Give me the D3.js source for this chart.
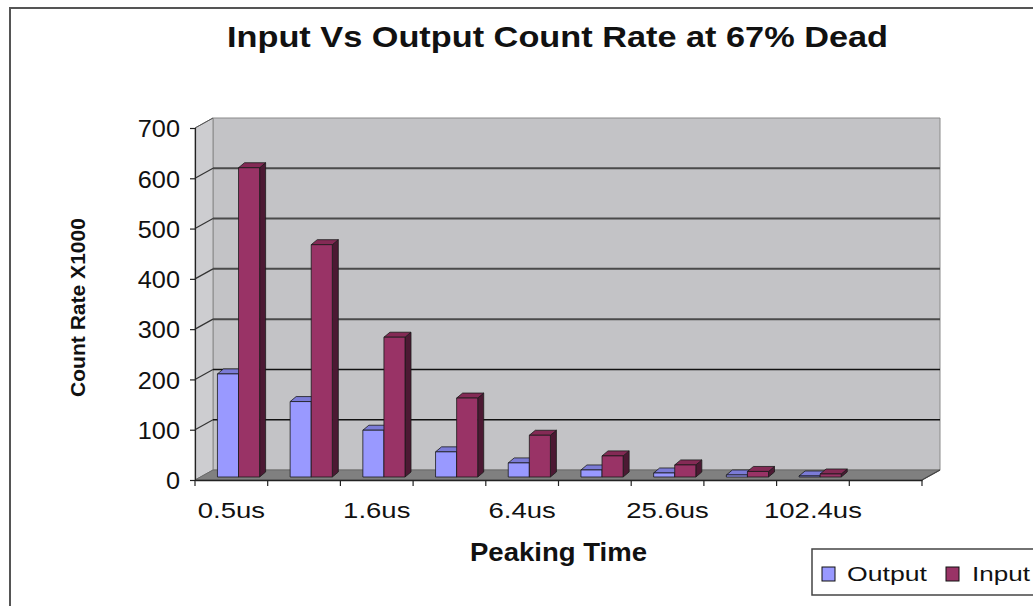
<!DOCTYPE html>
<html>
<head>
<meta charset="utf-8">
<script src="https://cdn.jsdelivr.net/npm/d3@7"></script>
<style>
  html, body { margin: 0; padding: 0; background: #fff; }
  svg { display: block; font-family: "Liberation Sans", Arial, sans-serif; }
</style>
</head>
<body>
<svg id="chart" width="1033" height="606"></svg>
<script>
// ---- data ----
const categories = ["0.5us", "0.8us", "1.6us", "3.2us", "6.4us", "12.8us", "25.6us", "51.2us", "102.4us", "204.8us"];
const shownLabels = ["0.5us", "1.6us", "6.4us", "25.6us", "102.4us"];
const seriesNames = ["Output", "Input"];
const outputValues = [205, 150, 93, 50, 28, 14, 8, 4, 2, null];
const inputValues = [615, 462, 278, 157, 83, 42, 24, 11, 6, null];
const yTicks = [0, 100, 200, 300, 400, 500, 600, 700];
const titleText = "Input Vs Output Count Rate at 67% Dead";
const xTitle = "Peaking Time";
const yTitle = "Count Rate X1000";

// ---- styles ----
const colors = {
  Output: { front: "#9999ff", top: "#7b7bd6", side: "#4d4d85" },
  Input: { front: "#993366", top: "#842a55", side: "#4c1933" }
};

const svg = d3.select("#chart");

// outer chart border
svg.append("rect").attr("x", 10).attr("y", 8).attr("width", 1040).attr("height", 620)
  .attr("fill", "#fff").attr("stroke", "#555").attr("stroke-width", 2);

// scales (front plane)
const x = d3.scaleBand().domain(categories).range([195, 922]).padding(0);
const y = d3.scaleLinear().domain([0, 700]).range([480, 128]);
const bw = x.bandwidth();
const xs = d3.scaleBand().domain(seriesNames).range([0.24 * bw, 0.82 * bw]).padding(0);

// depth offsets
const back = { dx: 18, dy: -10 };
const barPlane = { dx: 5, dy: -3 };
const barDepth = { dx: 6, dy: -5 };

const [x0, x1] = x.range();
const pts = a => a.map(p => p.join(",")).join(" ");

// back wall
svg.append("polygon")
  .attr("points", pts([[x0 + back.dx, y(700) + back.dy], [x1 + back.dx, y(700) + back.dy], [x1 + back.dx, y(0) + back.dy], [x0 + back.dx, y(0) + back.dy]]))
  .attr("fill", "#c3c3c6").attr("stroke", "#8a8a8a").attr("stroke-width", 1);
// side wall
svg.append("polygon")
  .attr("points", pts([[x0, y(0)], [x0, y(700)], [x0 + back.dx, y(700) + back.dy], [x0 + back.dx, y(0) + back.dy]]))
  .attr("fill", "#cdcdd0").attr("stroke", "#8a8a8a").attr("stroke-width", 1);
// floor
svg.append("polygon")
  .attr("points", pts([[x0, y(0)], [x1, y(0)], [x1 + back.dx, y(0) + back.dy], [x0 + back.dx, y(0) + back.dy]]))
  .attr("fill", "#808080").attr("stroke", "#6a6a6a").attr("stroke-width", 1);

// gridlines on back wall and side wall
const grid = svg.append("g");
yTicks.filter(v => v > 0 && v < 700).forEach(v => {
  const strong = v <= 200;
  grid.append("line")
    .attr("x1", x0 + back.dx).attr("x2", x1 + back.dx)
    .attr("y1", y(v) + back.dy).attr("y2", y(v) + back.dy)
    .attr("stroke", strong ? "#111" : "#4a4a4a").attr("stroke-width", strong ? 1.6 : 2);
  grid.append("line")
    .attr("x1", x0).attr("x2", x0 + back.dx)
    .attr("y1", y(v)).attr("y2", y(v) + back.dy)
    .attr("stroke", "#333").attr("stroke-width", 1.2);
});
grid.append("line")
  .attr("x1", x0).attr("x2", x0 + back.dx)
  .attr("y1", y(700)).attr("y2", y(700) + back.dy)
  .attr("stroke", "#555").attr("stroke-width", 1);

// bars
const barData = [];
categories.forEach((c, i) => {
  [["Output", outputValues[i]], ["Input", inputValues[i]]].forEach(([s, v]) => {
    if (v != null) barData.push({ c, s, v });
  });
});
const barsG = svg.append("g");
barData.forEach(d => {
  const bx = x(d.c) + xs(d.s) + barPlane.dx;
  const w = xs.bandwidth();
  const yb = y(0) + barPlane.dy;
  const yt = y(d.v) + barPlane.dy;
  const col = colors[d.s];
  const g = barsG.append("g").attr("stroke", "#1a1a1a").attr("stroke-width", 0.8).attr("stroke-linejoin", "round");
  g.append("polygon").attr("points", pts([[bx + w, yt], [bx + w + barDepth.dx, yt + barDepth.dy], [bx + w + barDepth.dx, yb + barDepth.dy], [bx + w, yb]]))
    .attr("fill", col.side);
  g.append("polygon").attr("points", pts([[bx, yt], [bx + w, yt], [bx + w + barDepth.dx, yt + barDepth.dy], [bx + barDepth.dx, yt + barDepth.dy]]))
    .attr("fill", col.top);
  g.append("rect").attr("x", bx).attr("y", yt).attr("width", w).attr("height", Math.max(0, yb - yt))
    .attr("fill", col.front);
});

// y axis
const yAxis = d3.axisLeft(y).tickValues(yTicks).tickSize(5).tickPadding(10).tickFormat(d3.format("d"));
const yg = svg.append("g").attr("transform", `translate(${x0},0)`).call(yAxis);
yg.select(".domain").attr("stroke", "#222").attr("stroke-width", 1.2);
yg.selectAll(".tick line").attr("stroke", "#222").attr("stroke-width", 1.2);
yg.selectAll(".tick text")
  .attr("font-size", 23).attr("fill", "#111").attr("font-family", "Liberation Sans, Arial, sans-serif")
  .attr("dy", "0.38em")
  .attr("textLength", function () { return this.getComputedTextLength ? null : null; });
yg.selectAll(".tick text").each(function () {
  const w = this.getComputedTextLength();
  d3.select(this).attr("textLength", w * 1.1).attr("lengthAdjust", "spacingAndGlyphs");
});

// x axis (front edge)
const xAxis = d3.axisBottom(x).tickSize(0).tickPadding(22)
  .tickFormat(d => shownLabels.includes(d) ? d : "");
const xg = svg.append("g").attr("transform", `translate(0,${y(0)})`).call(xAxis);
xg.select(".domain").attr("stroke", "#222").attr("stroke-width", 1.4);
xg.selectAll(".tick text")
  .attr("font-size", 22).attr("fill", "#111").attr("font-family", "Liberation Sans, Arial, sans-serif");
xg.selectAll(".tick text").each(function () {
  const w = this.getComputedTextLength();
  if (w > 0) d3.select(this).attr("textLength", w * 1.25).attr("lengthAdjust", "spacingAndGlyphs");
});
// boundary ticks on x axis
const bounds = categories.map(c => x(c)).concat([x1]);
xg.selectAll(".bnd").data(bounds).enter().append("line")
  .attr("x1", d => d).attr("x2", d => d).attr("y1", 0).attr("y2", 6)
  .attr("stroke", "#222").attr("stroke-width", 1.2);
// right floor edge
svg.append("line").attr("x1", x1).attr("y1", y(0)).attr("x2", x1 + back.dx).attr("y2", y(0) + back.dy)
  .attr("stroke", "#444").attr("stroke-width", 1.2);

// title
svg.append("text").attr("x", 227).attr("y", 47)
  .attr("font-size", 30).attr("font-weight", "bold").attr("fill", "#111")
  .attr("textLength", 661).attr("lengthAdjust", "spacingAndGlyphs")
  .text(titleText);

// x title
svg.append("text").attr("x", 470).attr("y", 561)
  .attr("font-size", 26).attr("font-weight", "bold").attr("fill", "#111")
  .attr("textLength", 177).attr("lengthAdjust", "spacingAndGlyphs")
  .text(xTitle);

// y title
svg.append("text").attr("transform", "translate(85,397) rotate(-90)")
  .attr("font-size", 20).attr("fill", "#111").attr("font-weight", "bold")
  .attr("textLength", 179).attr("lengthAdjust", "spacingAndGlyphs")
  .text(yTitle);

// legend
const lg = svg.append("g");
lg.append("rect").attr("x", 812).attr("y", 549).attr("width", 240).attr("height", 46)
  .attr("fill", "#fff").attr("stroke", "#444").attr("stroke-width", 1.5);
const legendPos = { Output: { sx: 822, tx: 847, tl: 80 }, Input: { sx: 946, tx: 972, tl: 58 } };
seriesNames.forEach(s => {
  const p = legendPos[s];
  lg.append("rect").attr("x", p.sx).attr("y", 567).attr("width", 13).attr("height", 14)
    .attr("fill", colors[s].front).attr("stroke", "#111").attr("stroke-width", 1);
  lg.append("text").attr("x", p.tx).attr("y", 581)
    .attr("font-size", 21).attr("fill", "#111")
    .attr("textLength", p.tl).attr("lengthAdjust", "spacingAndGlyphs")
    .text(s);
});
</script>
</body>
</html>
